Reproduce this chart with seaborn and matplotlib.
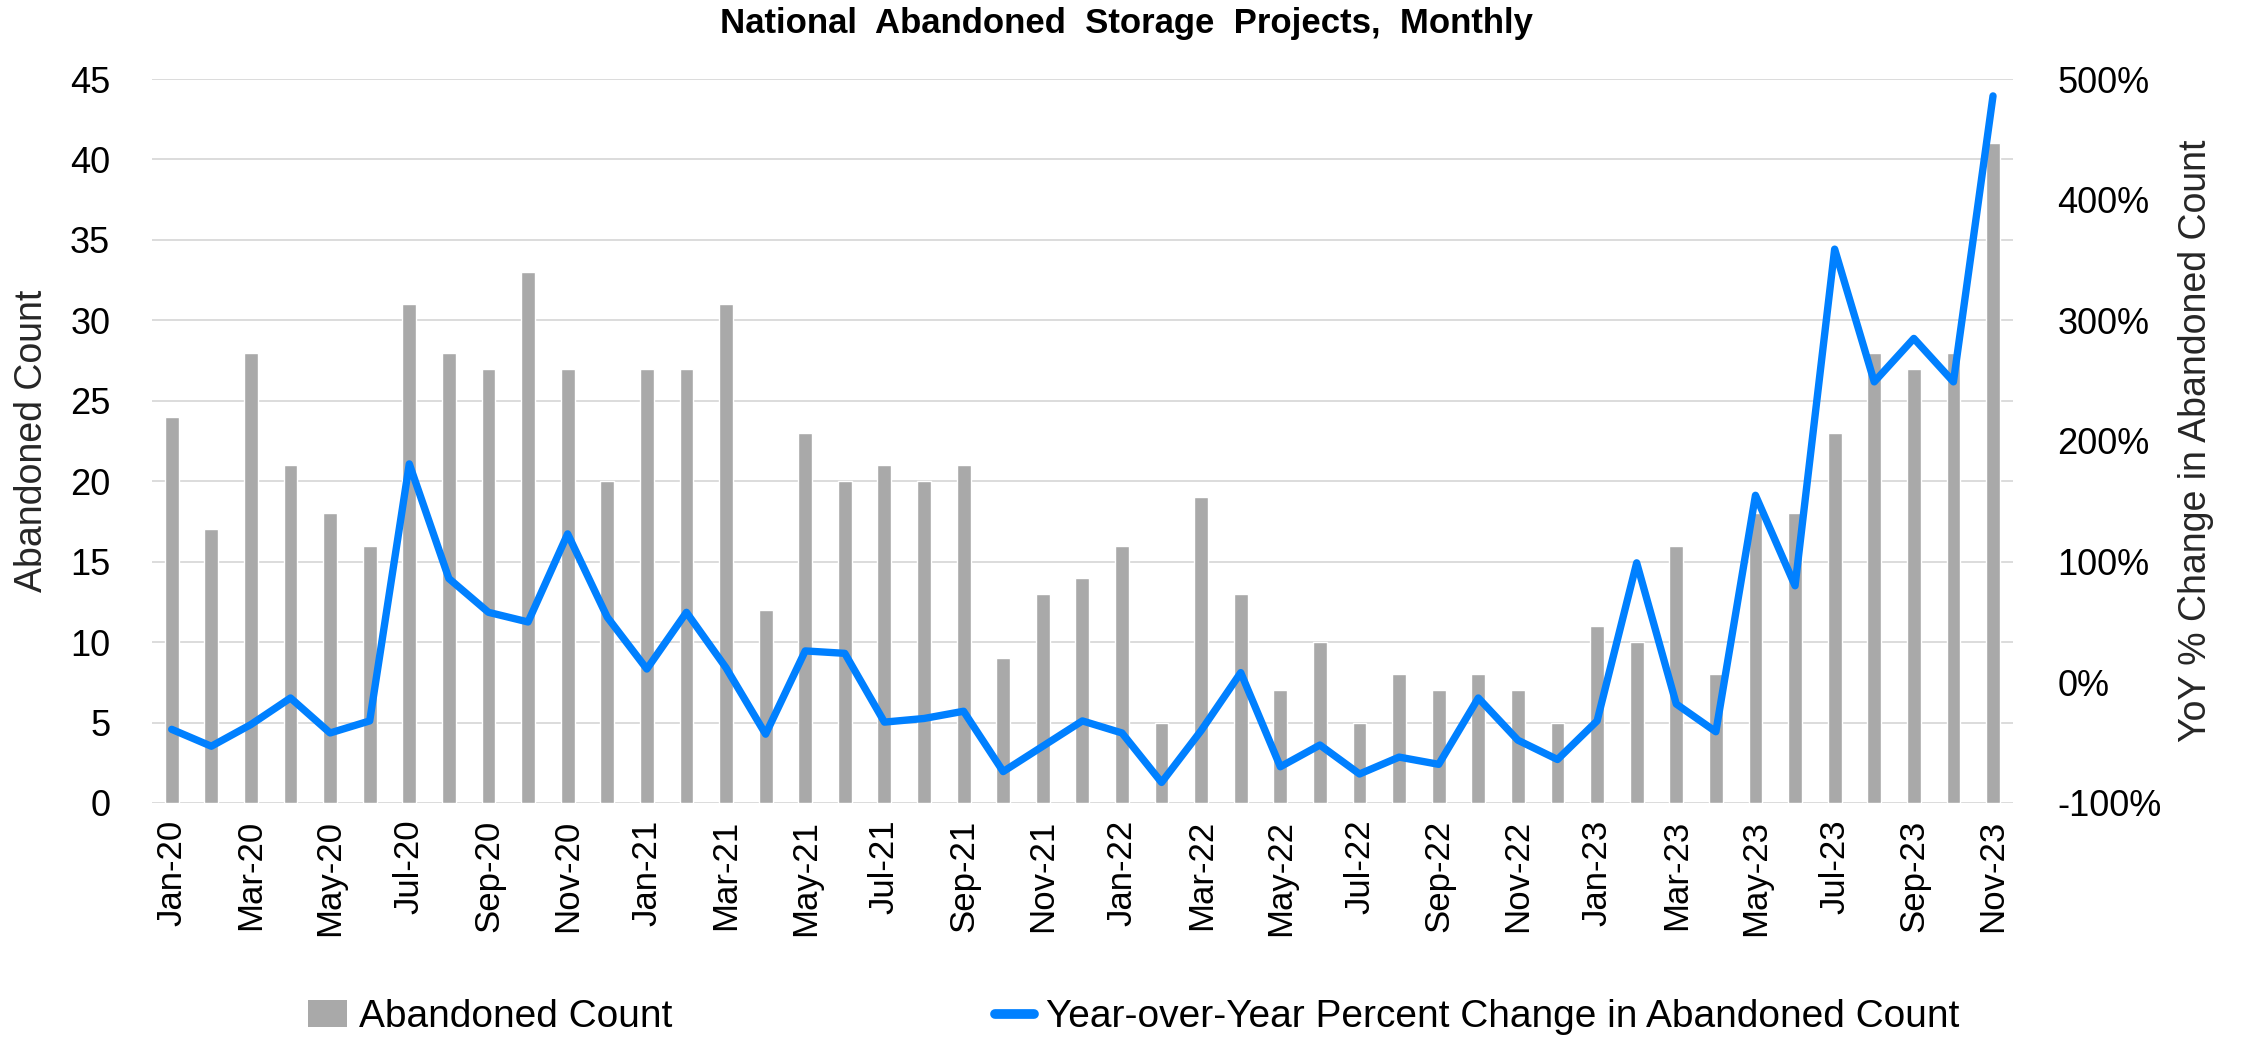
import numpy as np
import pandas as pd
import matplotlib
matplotlib.use("Agg")
import matplotlib.pyplot as plt
from matplotlib.patches import Patch
from matplotlib.lines import Line2D
from matplotlib.ticker import FuncFormatter
import seaborn as sns

# monthly labels Jan-20 .. Nov-23
months = ["Jan-20", "Feb-20", "Mar-20", "Apr-20", "May-20", "Jun-20", "Jul-20", "Aug-20",
          "Sep-20", "Oct-20", "Nov-20", "Dec-20",
          "Jan-21", "Feb-21", "Mar-21", "Apr-21", "May-21", "Jun-21", "Jul-21", "Aug-21",
          "Sep-21", "Oct-21", "Nov-21", "Dec-21",
          "Jan-22", "Feb-22", "Mar-22", "Apr-22", "May-22", "Jun-22", "Jul-22", "Aug-22",
          "Sep-22", "Oct-22", "Nov-22", "Dec-22",
          "Jan-23", "Feb-23", "Mar-23", "Apr-23", "May-23", "Jun-23", "Jul-23", "Aug-23",
          "Sep-23", "Oct-23", "Nov-23"]

# abandoned count per month
abandoned = [24, 17, 28, 21, 18, 16, 31, 28, 27, 33, 27, 20,
             27, 27, 31, 12, 23, 20, 21, 20, 21, 9, 13, 14,
             16, 5, 19, 13, 7, 10, 5, 8, 7, 8, 7, 5,
             11, 10, 16, 8, 18, 18, 23, 28, 27, 28, 41]

# year-over-year % change
yoy_pct = [-39, -53, -35, -13, -42, -32, 181, 86, 58, 50, 123, 54,
           11, 58, 12, -43, 26, 24, -33, -30, -24, -74, -53, -32,
           -42, -83, -40, 8, -70, -52, -76, -62, -68, -13, -48, -64,
           -32, 99, -18, -41, 155, 80, 359, 249, 285, 249, 486]

bar_label = "Abandoned Count"
line_label = "Year-over-Year Percent Change in Abandoned Count"

sns.set_style("white")
plt.rcParams["font.family"] = ["Liberation Sans", "DejaVu Sans"]
plt.rcParams["text.color"] = "black"

bar_color = "#A9A9A9"
line_color = "#0080FF"

fig = plt.figure(figsize=(22.54, 10.37), dpi=100)
ax = fig.add_axes([0.0674, 0.2257, 0.8256, 0.6981])

df = pd.DataFrame({"month": months, "count": abandoned, "yoy": yoy_pct})
df["pos"] = np.arange(len(df))

sns.barplot(data=df, x="month", y="count", color=bar_color, width=0.35,
            saturation=1, ax=ax, zorder=2)
ax.set_ylim(0, 45)
ax.set_yticks(range(0, 46, 5))
ax.yaxis.grid(True, color="#D9D9D9", linewidth=1.3, zorder=0)
ax.set_axisbelow(True)
for s in ax.spines.values():
    s.set_visible(False)

ax2 = ax.twinx()
sns.lineplot(data=df, x="pos", y="yoy", color=line_color, linewidth=5.3,
             ax=ax2, solid_capstyle="round", solid_joinstyle="round")
ax2.set_ylim(-100, 500)
ax2.set_yticks(range(-100, 501, 100))
ax2.yaxis.set_major_formatter(FuncFormatter(lambda v, p: f"{int(v)}%"))
for s in ax2.spines.values():
    s.set_visible(False)
ax2.grid(False)

ax.set_xlim(-0.5, len(months) - 0.5)
ax.set_xticks(range(0, len(months), 2))
ax.set_xticklabels(months[::2], rotation=90)
ax.tick_params(axis="x", length=0, pad=12, labelsize=25, labelcolor="black")
ax.tick_params(axis="y", length=0, pad=30, labelsize=26, labelcolor="black")
ax2.tick_params(axis="y", length=0, pad=32, labelsize=26, labelcolor="black")

ax.set_xlabel("")
ax.set_ylabel("Abandoned Count", fontsize=27, labelpad=14)
ax2.set_ylabel("YoY % Change in Abandoned Count", fontsize=27, labelpad=12)

fig.suptitle("National  Abandoned  Storage  Projects,  Monthly",
             fontsize=25, fontweight="bold", y=0.993)

handles = [Patch(facecolor=bar_color, edgecolor="none"),
           Line2D([0], [0], color=line_color, linewidth=7, solid_capstyle="round")]
fig.legend(handles, [bar_label, line_label], loc="lower center", ncol=2,
           bbox_to_anchor=(0.503, -0.032), frameon=False, handlelength=1.0,
           handletextpad=0.3, columnspacing=8.3, prop={"size": 28})

fig.savefig("out.png", dpi=100)
